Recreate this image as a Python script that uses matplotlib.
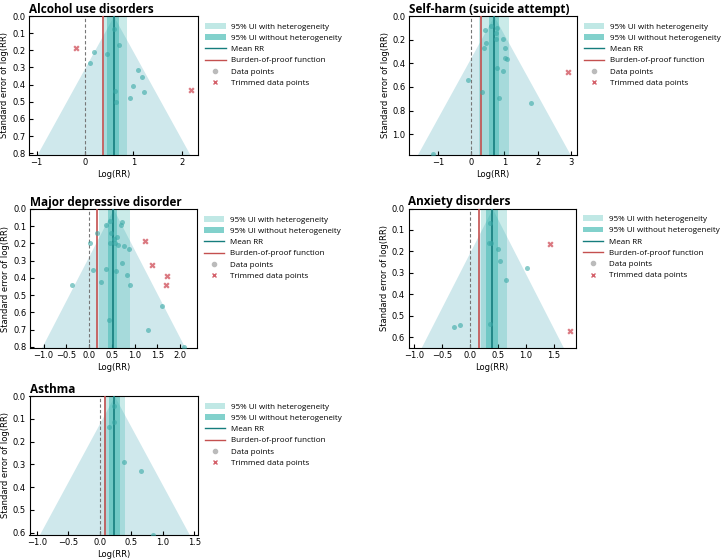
import numpy as np
import matplotlib.pyplot as plt
from matplotlib.patches import Patch
from matplotlib.lines import Line2D
from matplotlib.ticker import MultipleLocator

# Alcohol use disorders
alc_x = [0.59, 0.71, 0.19, 0.46, 0.11, 1.09, 1.17, 1.00, 0.63, 1.23, 0.93, 0.64]
alc_se = [0.074, 0.167, 0.208, 0.22, 0.274, 0.317, 0.358, 0.41, 0.436, 0.44, 0.48, 0.50]
alc_tx = [-0.19, 2.19]
alc_tse = [0.185, 0.43]

# Self-harm (suicide attempt)
sh_x = [0.59, 0.40, 0.77, 0.76, 0.74, 0.96, 0.43, 0.37, 1.03, 1.01, 1.09, 0.78,
        0.97, -0.11, 0.33, 0.84, 1.81, -1.16]
sh_se = [0.082, 0.118, 0.101, 0.141, 0.192, 0.194, 0.228, 0.273, 0.268, 0.352,
         0.366, 0.44, 0.468, 0.544, 0.64, 0.693, 0.732, 1.17]
sh_tx = [2.91]
sh_tse = [0.476]

# Major depressive disorder
mdd_x = [0.18, 0.37, 0.46, 0.73, 0.69, 0.48, 0.54, 0.62, 0.46, 0.63, 0.76, 0.87, 0.02,
         0.56, 0.73, 0.09, 0.37, 0.59, 0.83, -0.38, 0.25, 0.89, 1.60, 0.43, 1.30, 2.08]
mdd_se = [0.141, 0.095, 0.068, 0.076, 0.093, 0.141, 0.176, 0.165, 0.196, 0.209, 0.213,
          0.234, 0.196, 0.20, 0.312, 0.351, 0.347, 0.36, 0.382, 0.44, 0.424, 0.44,
          0.564, 0.645, 0.70, 0.80]
mdd_tx = [1.23, 1.38, 1.72, 1.68]
mdd_tse = [0.184, 0.326, 0.39, 0.44]

# Anxiety disorders
anx_x = [0.365, 0.35, 0.38, 0.51, 0.53, 1.02, 0.64, -0.29, -0.18, 0.365]
anx_se = [0.067, 0.16, 0.163, 0.19, 0.246, 0.28, 0.336, 0.552, 0.543, 0.541]
anx_tx = [1.43, 1.79]
anx_tse = [0.168, 0.573]

# Asthma
ast_x = [0.22, 0.22, 0.14, 0.39, 0.65, 0.85]
ast_se = [0.045, 0.112, 0.136, 0.289, 0.327, 0.61]
ast_tx = []
ast_tse = []

# title, points, trimmed, mean, burden-of-proof, UI with het, UI without het, max se, xlim, ystep, xstep
panels = [
    ("Alcohol use disorders", alc_x, alc_se, alc_tx, alc_tse, 0.59, 0.37, (0.40, 0.86), (0.46, 0.71), 0.81, (-1.16, 2.34), 0.1, 1),
    ("Self-harm (suicide attempt)", sh_x, sh_se, sh_tx, sh_tse, 0.68, 0.29, (0.22, 1.13), (0.52, 0.83), 1.175, (-1.87, 3.18), 0.2, 1),
    ("Major depressive disorder", mdd_x, mdd_se, mdd_tx, mdd_tse, 0.53, 0.18, (0.22, 0.90), (0.42, 0.62), 0.806, (-1.30, 2.37), 0.1, 0.5),
    ("Anxiety disorders", anx_x, anx_se, anx_tx, anx_tse, 0.40, 0.17, (0.20, 0.66), (0.29, 0.50), 0.649, (-1.10, 1.89), 0.1, 0.5),
    ("Asthma", ast_x, ast_se, ast_tx, ast_tse, 0.23, 0.08, (0.07, 0.40), (0.14, 0.32), 0.61, (-1.12, 1.56), 0.1, 0.5),
]

positions = [
    [29 / 722, 405 / 560, 169 / 722, 139 / 560],
    [409 / 722, 405 / 560, 168 / 722, 139 / 560],
    [30 / 722, 212 / 560, 167 / 722, 139 / 560],
    [408.5 / 722, 212.5 / 560, 167 / 722, 139 / 560],
    [29.5 / 722, 25 / 560, 168.5 / 722, 139 / 560],
]

funnel_c = "#cfe8ec"
band_c = "#2fb3ab"
mean_c = "#157d7d"
bop_c = "#c4504f"
pt_c = "#3aa9a6"
trim_c = "#d4606a"

fig = plt.figure(figsize=(7.22, 5.6), dpi=100)

for (title, x, se, tx, tse, mean, bop, ui_het, ui, ymax, xlim, ystep, xstep), pos in zip(panels, positions):
    ax = fig.add_axes(pos)
    s = np.array([0, ymax])
    ax.fill_betweenx(s, mean - 1.96 * s, mean + 1.96 * s, color=funnel_c, lw=0, zorder=1)
    ax.axvspan(ui_het[0], ui_het[1], color=band_c, alpha=0.25, lw=0, zorder=2)
    ax.axvspan(ui[0], ui[1], color=band_c, alpha=0.45, lw=0, zorder=2)
    ax.axvline(0, color="#777777", lw=0.8, ls=(0, (3, 2)), zorder=3)
    ax.axvline(bop, color=bop_c, lw=1.2, zorder=3)
    ax.axvline(mean, color=mean_c, lw=1.2, zorder=3)
    ax.scatter(x, se, s=13, color=pt_c, alpha=0.6, lw=0, zorder=4)
    if tx:
        ax.scatter(tx, tse, s=20, marker="X", color=trim_c, alpha=0.85, lw=0, zorder=4)
    ax.set_xlim(xlim)
    ax.set_ylim(ymax, 0)
    ax.set_yticks(np.arange(0, ymax + 1e-9, ystep))
    ax.xaxis.set_major_locator(MultipleLocator(xstep))
    ax.tick_params(direction="in", labelsize=6, length=3, width=0.8, pad=2.5)
    for sp in ax.spines.values():
        sp.set_linewidth(0.8)
    ax.set_xlabel("Log(RR)", fontsize=6, labelpad=2)
    ax.set_ylabel("Standard error of log(RR)", fontsize=6, labelpad=2)
    ax.set_title(title, loc="left", fontsize=8.5, fontweight="bold", family="Open Sans", pad=2)

    handles = [
        Patch(facecolor=band_c, alpha=0.3, lw=0),
        Patch(facecolor=band_c, alpha=0.6, lw=0),
        Line2D([], [], color=mean_c, lw=1),
        Line2D([], [], color=bop_c, lw=1),
        Line2D([], [], ls="", marker="o", ms=3, color="#bbbbbb"),
        Line2D([], [], ls="", marker="x", ms=3.5, color=trim_c),
    ]
    labels = ["95% UI with heterogeneity", "95% UI without heterogeneity", "Mean RR",
              "Burden-of-proof function", "Data points", "Trimmed data points"]
    ax.legend(handles, labels, loc="upper left", bbox_to_anchor=(1.015, 0.985), frameon=False,
              prop={"family": ["Open Sans", "DejaVu Sans"], "size": 5.8},
              handlelength=2.5, handleheight=0.7, labelspacing=0.45,
              borderaxespad=0.2, handletextpad=0.7)

fig.savefig("out.png", dpi=100)
